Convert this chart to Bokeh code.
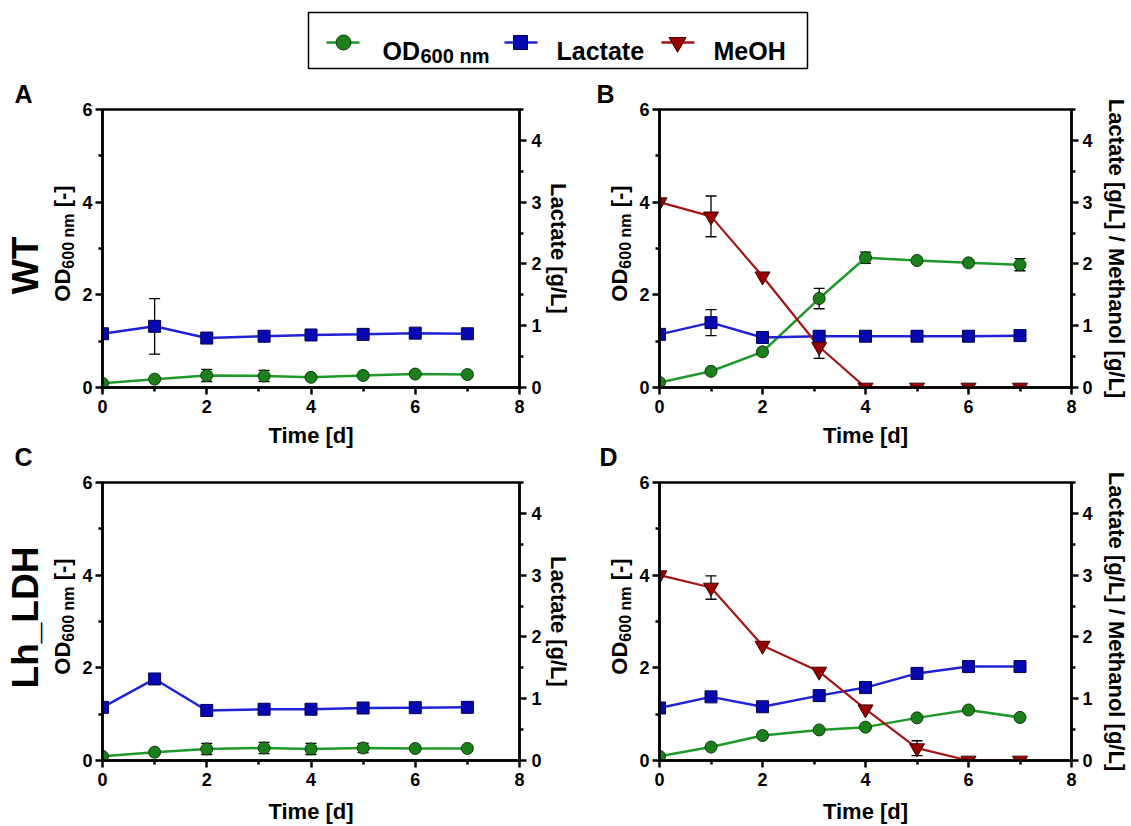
from math import pi
from bokeh.plotting import figure
from bokeh.models import (Range1d, LinearAxis, FixedTicker, Label, Whisker,
                          ColumnDataSource, TeeHead)
from bokeh.layouts import column, row
from bokeh.embed import file_html
from bokeh.resources import INLINE

FONT = "Liberation Sans"

# ---------------- data ----------------
time_d = [0, 1, 2, 3.1, 4, 5, 6, 7]

# A: WT
od_A = [0.09, 0.18, 0.26, 0.25, 0.22, 0.26, 0.29, 0.28]
od_A_err = [0, 0, 0.13, 0.12, 0, 0, 0, 0]
lac_A = [0.87, 0.99, 0.80, 0.83, 0.85, 0.86, 0.88, 0.87]
lac_A_err = [0, 0.45, 0, 0, 0, 0, 0, 0]

# B: WT + methanol
od_B = [0.11, 0.35, 0.77, 1.92, 2.80, 2.74, 2.69, 2.65]
od_B_err = [0, 0, 0, 0.22, 0.12, 0.04, 0.04, 0.13]
lac_B = [0.86, 1.05, 0.81, 0.83, 0.83, 0.83, 0.83, 0.84]
lac_B_err = [0, 0.21, 0, 0, 0, 0, 0, 0]
meoh_B = [3.0, 2.77, 1.80, 0.66, 0, 0, 0, 0]
meoh_B_err = [0, 0.33, 0, 0.19, 0, 0, 0, 0]

# C: Lh_LDH
od_C = [0.09, 0.18, 0.25, 0.27, 0.25, 0.27, 0.26, 0.26]
od_C_err = [0, 0, 0.12, 0.12, 0.12, 0.10, 0, 0]
lac_C = [0.86, 1.32, 0.81, 0.83, 0.83, 0.85, 0.855, 0.86]
lac_C_err = [0, 0, 0, 0, 0, 0, 0, 0]

# D: Lh_LDH + methanol
od_D = [0.09, 0.29, 0.54, 0.66, 0.72, 0.92, 1.09, 0.93]
od_D_err = [0, 0, 0, 0, 0, 0, 0, 0]
lac_D = [0.85, 1.03, 0.87, 1.05, 1.18, 1.41, 1.52, 1.52]
lac_D_err = [0, 0, 0, 0, 0, 0, 0, 0]
meoh_D = [3.0, 2.80, 1.86, 1.44, 0.83, 0.20, 0, 0]
meoh_D_err = [0, 0.19, 0, 0, 0, 0.12, 0, 0]

x_ticks = [0, 2, 4, 6, 8]
x_minor = [1, 3, 5, 7]
od_ticks = [0, 2, 4, 6]
od_minor = [1, 3, 5]
gl_ticks = [0, 1, 2, 3, 4]
gl_minor = [0.5, 1.5, 2.5, 3.5, 4.5]

legend_names = ["OD", "600 nm", "Lactate", "MeOH"]
x_title = "Time [d]"
right_titles = ["Lactate [g/L]", "Lactate [g/L] / Methanol [g/L]"]
row_titles = ["WT", "Lh_LDH"]
panel_letters = ["A", "B", "C", "D"]

# ---------------- styles ----------------
GREEN_LINE = "#1f9a2a"
GREEN_FILL = "#1b7f1b"
GREEN_EDGE = "#0b3d0b"
BLUE_LINE = "#1f22d6"
BLUE_FILL = "#0808b0"
BLUE_EDGE = "#000055"
RED_LINE = "#a51616"
RED_FILL = "#990000"
RED_EDGE = "#3d0000"


def style_axis(ax, ticks, minor):
    ax.ticker = FixedTicker(ticks=ticks, minor_ticks=minor)
    ax.axis_line_width = 2.5
    ax.axis_line_color = "black"
    ax.major_tick_line_width = 2.5
    ax.minor_tick_line_width = 2.5
    ax.major_tick_line_color = "black"
    ax.minor_tick_line_color = "black"
    ax.major_tick_out = 7
    ax.major_tick_in = 0
    ax.minor_tick_out = 4
    ax.minor_tick_in = 0
    ax.major_label_text_font = FONT
    ax.major_label_text_font_size = "18px"
    ax.major_label_text_font_style = "bold"
    ax.major_label_text_color = "black"
    ax.major_label_standoff = 5
    ax.axis_label_text_font = FONT
    ax.axis_label_text_font_size = "22px"
    ax.axis_label_text_font_style = "bold"
    ax.axis_label_text_color = "black"


def add_whiskers(p, vals, errs, range_name=None):
    base, up, lo = [], [], []
    for ti, v, e in zip(time_d, vals, errs):
        if e > 0:
            base.append(ti)
            up.append(v + e)
            lo.append(v - e)
    if not base:
        return
    src = ColumnDataSource(dict(base=base, upper=up, lower=lo))
    kw = {} if range_name is None else {"y_range_name": range_name}
    w = Whisker(source=src, base="base", upper="upper", lower="lower",
                line_color="black", line_width=1.3,
                upper_head=TeeHead(size=11, line_color="black", line_width=1.3),
                lower_head=TeeHead(size=11, line_color="black", line_width=1.3),
                **kw)
    p.add_layout(w)


def make_panel(width, height, bl, br, bt, bb, od, od_err, lac, lac_err,
               meoh, meoh_err, right_label, right_standoff, right_lstandoff,
               time_standoff):
    p = figure(width=width, height=height, x_range=Range1d(0, 8),
               y_range=Range1d(0, 6), output_backend="svg",
               toolbar_location=None, title=None,
               min_border_left=bl, min_border_right=br,
               min_border_top=bt, min_border_bottom=bb)
    p.extra_y_ranges = {"gl": Range1d(0, 4.5)}
    p.xgrid.visible = False
    p.ygrid.visible = False
    p.outline_line_color = "black"
    p.outline_line_width = 2.5
    p.background_fill_color = "white"
    p.border_fill_color = "white"

    style_axis(p.xaxis[0], x_ticks, x_minor)
    p.xaxis[0].axis_label = x_title
    p.xaxis[0].axis_label_standoff = time_standoff
    style_axis(p.yaxis[0], od_ticks, od_minor)
    p.yaxis[0].major_label_standoff = 3
    rax = LinearAxis(y_range_name="gl", axis_label=right_label)
    style_axis(rax, gl_ticks, gl_minor)
    rax.major_label_standoff = right_lstandoff
    rax.axis_label_standoff = right_standoff
    p.add_layout(rax, "right")

    # error bars
    add_whiskers(p, od, od_err)
    add_whiskers(p, lac, lac_err, "gl")
    if meoh is not None:
        add_whiskers(p, meoh, meoh_err, "gl")

    src = ColumnDataSource(dict(t=time_d, od=od, lac=lac))
    p.line("t", "od", source=src, line_color=GREEN_LINE, line_width=2.5)
    p.line("t", "lac", source=src, line_color=BLUE_LINE, line_width=2.5,
           y_range_name="gl")
    if meoh is not None:
        msrc = ColumnDataSource(dict(t=time_d, meoh=meoh))
        p.line("t", "meoh", source=msrc, line_color=RED_LINE, line_width=2.2,
               y_range_name="gl")
    p.scatter("t", "od", source=src, marker="circle", size=12,
              fill_color=GREEN_FILL, line_color=GREEN_EDGE, line_width=1)
    p.scatter("t", "lac", source=src, marker="square", size=12,
              fill_color=BLUE_FILL, line_color=BLUE_EDGE, line_width=1,
              y_range_name="gl")
    if meoh is not None:
        p.scatter("t", "meoh", source=msrc, marker="inverted_triangle",
                  size=15, fill_color=RED_FILL, line_color=RED_EDGE,
                  line_width=1, y_range_name="gl")
    return p


def text_fig(width, height):
    f = figure(width=width, height=height, x_range=Range1d(0, width),
               y_range=Range1d(height, 0), output_backend="svg",
               toolbar_location=None, title=None, min_border=0,
               x_axis_type=None, y_axis_type=None)
    f.outline_line_color = None
    f.xgrid.visible = False
    f.ygrid.visible = False
    return f


def ftxt(f, x, y, text, size, angle=0, align="center", baseline="middle"):
    f.add_layout(Label(x=x, y=y, text=text, text_font=FONT,
                       text_font_size=size, text_font_style="bold",
                       text_color="black", angle=angle, text_align=align,
                       text_baseline=baseline))


def od_label(f, cx, sub_cx, center_y):
    w_od = 1.5 * 22
    w_sub = 3.446 * 16
    w_gap = 0.278 * 22
    w_br = 1.0 * 22
    L = w_od + w_sub + w_gap + w_br
    yb = center_y + L / 2
    ftxt(f, cx, yb, legend_names[0], "22px", angle=pi / 2, align="left")
    ftxt(f, sub_cx, yb - w_od, legend_names[1], "16px", angle=pi / 2,
         align="left")
    ftxt(f, cx, yb - w_od - w_sub - w_gap, "[-]", "22px", angle=pi / 2,
         align="left")


# ---------------- panels ----------------
# columns: text 0..78 | A/C 78..575 | text 575..635 | B/D 635..1131
# rows:    legend 0..78 | top 78..450 | bottom 450..826
pA = make_panel(497, 372, 24, 56, 31, 63, od_A, od_A_err, lac_A, lac_A_err,
                None, None, right_titles[0], 1, 5, 7)
pC = make_panel(497, 376, 24, 56, 32, 66, od_C, od_C_err, lac_C, lac_C_err,
                None, None, right_titles[0], 1, 5, 10)
pB = make_panel(496, 372, 24, 54, 31, 63, od_B, od_B_err, lac_B, lac_B_err,
                meoh_B, meoh_B_err, right_titles[1], 8, 4, 7)
pD = make_panel(496, 376, 24, 54, 32, 66, od_D, od_D_err, lac_D, lac_D_err,
                meoh_D, meoh_D_err, right_titles[1], 8, 4, 10)

# left text strip (x 0..78, y 78..826; local y = y - 78)
tL = text_fig(78, 748)
ftxt(tL, 23, 15, panel_letters[0], "25px")
ftxt(tL, 25, 187, row_titles[0], "37px", angle=pi / 2)
od_label(tL, 62, 68, 165)
ftxt(tL, 23, 378, panel_letters[2], "25px")
ftxt(tL, 25, 539, row_titles[1], "37px", angle=pi / 2)
od_label(tL, 62, 68, 538)

# middle text strip (x 575..635)
tR = text_fig(60, 748)
ftxt(tR, 30, 15, panel_letters[1], "25px")
od_label(tR, 44, 50, 165)
ftxt(tR, 33, 378, panel_letters[3], "25px")
od_label(tR, 44, 50, 538)

# legend strip (y downward)
lg = text_fig(1131, 78)
lg.quad(left=[308], right=[807], top=[12], bottom=[68], fill_color=None,
        line_color="black", line_width=1.5)
lg.line([326, 359], [42, 42], line_color=GREEN_LINE, line_width=2.5)
lg.scatter([343], [42], marker="circle", size=15, fill_color=GREEN_FILL,
           line_color=GREEN_EDGE, line_width=1)
lg.line([504, 537], [42, 42], line_color=BLUE_LINE, line_width=2.5)
lg.scatter([520], [42], marker="square", size=14, fill_color=BLUE_FILL,
           line_color=BLUE_EDGE, line_width=1)
lg.line([661, 694], [42, 42], line_color=RED_LINE, line_width=2.5)
lg.scatter([677], [42], marker="inverted_triangle", size=17,
           fill_color=RED_FILL, line_color=RED_EDGE, line_width=1)
ftxt(lg, 382, 50, legend_names[0], "25px", align="left", baseline="alphabetic")
ftxt(lg, 420, 55, legend_names[1], "20px", align="left", baseline="alphabetic")
ftxt(lg, 556, 50, legend_names[2], "25px", align="left", baseline="alphabetic")
ftxt(lg, 713, 50, legend_names[3], "25px", align="left", baseline="alphabetic")

layout = column(lg, row(tL, column(pA, pC), tR, column(pB, pD)))
open("out.html", "w").write(file_html(layout, INLINE))
